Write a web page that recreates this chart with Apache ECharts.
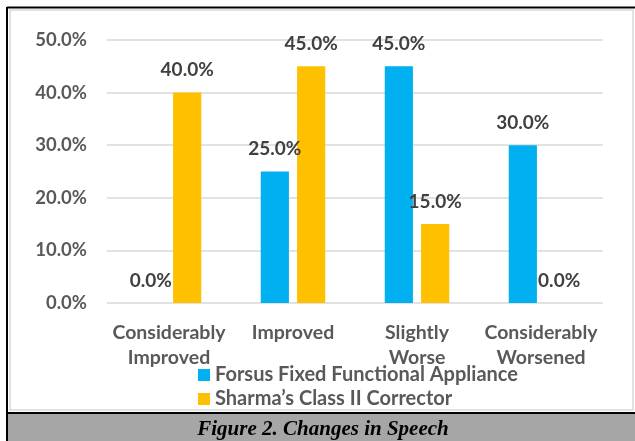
<!DOCTYPE html>
<html>
<head>
<meta charset="utf-8">
<script src="https://cdn.jsdelivr.net/npm/echarts@6/dist/echarts.min.js"></script>
<style>
  html, body { margin: 0; padding: 0; background: #fff; }
  #chart { width: 635px; height: 441px; }
</style>
</head>
<body>
<div id="chart"></div>
<script>
const categories = ['Considerably\nImproved', 'Improved', 'Slightly\nWorse', 'Considerably\nWorsened'];
const forsusValues = [0, 25, 45, 30];
const sharmaValues = [40, 45, 15, 0];
const seriesNames = ['Forsus Fixed Functional Appliance', 'Sharma\u2019s Class II Corrector'];
const captionText = 'Figure 2. Changes in Speech';

const font = 'Lato, "Open Sans", sans-serif';
const pct = (v) => v.toFixed(1) + '%';

const labelStyle = {
  show: true,
  position: 'top',
  distance: 13,
  color: '#404040',
  fontFamily: font,
  fontWeight: 'bold',
  fontSize: 19,
  formatter: (p) => pct(p.value),
};

const myChart = echarts.init(document.getElementById('chart'), null, { renderer: 'canvas' });
myChart.setOption({
  animation: false,
  backgroundColor: '#fff',
  color: ['#00b0f0', '#ffc000'],
  graphic: [
    // outer chart frame (light gray)
    { type: 'rect', shape: { x: 10, y: 10, width: 623, height: 400 }, style: { fill: 'none', stroke: '#d9d9d9', lineWidth: 1.5 }, z: -1 },
    // black border
    { type: 'line', shape: { x1: 7, y1: 7.5, x2: 635, y2: 7.5 }, style: { stroke: '#000', lineWidth: 2 } },
    { type: 'line', shape: { x1: 7, y1: 7, x2: 7, y2: 441 }, style: { stroke: '#000', lineWidth: 2 } },
    { type: 'line', shape: { x1: 7, y1: 413, x2: 635, y2: 413 }, style: { stroke: '#000', lineWidth: 2 } },
    // caption band
    { type: 'rect', shape: { x: 8, y: 414, width: 627, height: 27 }, style: { fill: '#a6a6a6' } },
    {
      type: 'text', x: 323, y: 430,
      style: {
        text: captionText, textAlign: 'center', textVerticalAlign: 'middle',
        font: 'italic bold 21px "Liberation Serif", "DejaVu Serif", serif', fill: '#000',
      },
    },
  ],
  legend: {
    orient: 'vertical',
    left: 193,
    top: 360,
    itemWidth: 12,
    itemHeight: 12,
    itemGap: 4,
    icon: 'rect',
    data: seriesNames,
    textStyle: { color: '#595959', fontFamily: font, fontWeight: 'bold', fontSize: 20, lineHeight: 20 },
  },
  grid: { left: 107, right: 32, top: 40, bottom: 138, containLabel: false },
  xAxis: {
    type: 'category',
    data: categories,
    axisLine: { show: false },
    axisTick: { show: false },
    axisLabel: {
      color: '#595959', fontFamily: font, fontWeight: 'bold', fontSize: 19.5,
      lineHeight: 25, margin: 17, interval: 0,
    },
  },
  yAxis: {
    type: 'value',
    min: 0,
    max: 50,
    interval: 10,
    axisLabel: {
      color: '#595959', fontFamily: font, fontWeight: 'bold', fontSize: 18.5, margin: 20,
      formatter: (v) => pct(v),
    },
    splitLine: { lineStyle: { color: '#d9d9d9', width: 1.5 } },
  },
  series: [
    { name: seriesNames[0], type: 'bar', data: forsusValues, barGap: '29%', barCategoryGap: '48%', label: labelStyle },
    { name: seriesNames[1], type: 'bar', data: sharmaValues, label: labelStyle },
  ],
});
</script>
</body>
</html>
